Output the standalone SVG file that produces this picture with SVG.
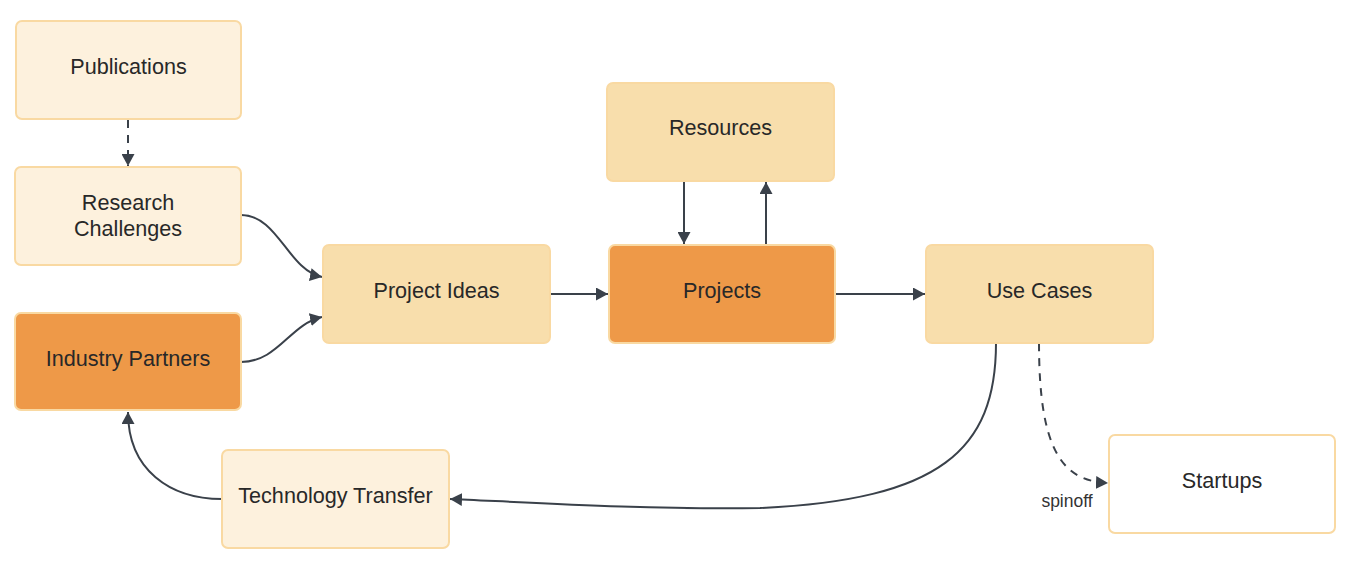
<svg xmlns="http://www.w3.org/2000/svg" width="1362" height="562" viewBox="0 0 1362 562">
  <style>
    .box { stroke: #F9D9A2; stroke-width: 2; }
    .light { fill: #FDF1DD; }
    .mid { fill: #F8DEAC; }
    .orange { fill: #EE9948; }
    .white { fill: #FFFFFF; }
    .lbl { font-family: "Liberation Sans", Arial, sans-serif; font-size: 21.6px; fill: #282828; text-anchor: middle; }
    .small { font-family: "Liberation Sans", Arial, sans-serif; font-size: 17.5px; fill: #333333; text-anchor: middle; }
    .edge { fill: none; stroke: #3A414A; stroke-width: 2; }
    .dash { stroke-dasharray: 8 7; }
  </style>
  <defs>
    <marker id="arrow" markerUnits="userSpaceOnUse" markerWidth="13" markerHeight="13" refX="12" refY="6.5" orient="auto">
      <path d="M0,0 L12,6.5 L0,13 Z" fill="#3A414A"/>
    </marker>
  </defs>
  <rect width="1362" height="562" fill="#FFFFFF"/>

  <g id="connectors">
    <path class="edge dash" d="M128,120 L128,166" marker-end="url(#arrow)"/>
    <path class="edge" d="M241,215 C278,215 288,270 322,277" marker-end="url(#arrow)"/>
    <path class="edge" d="M241,362 C278,362 290,324 322,317" marker-end="url(#arrow)"/>
    <path class="edge" d="M550,294 L608,294" marker-end="url(#arrow)"/>
    <path class="edge" d="M835,294 L925,294" marker-end="url(#arrow)"/>
    <path class="edge" d="M684,181 L684,244" marker-end="url(#arrow)"/>
    <path class="edge" d="M766,245 L766,182" marker-end="url(#arrow)"/>
    <path class="edge" d="M996,343 C996,450 940,500 760,508 C650,510 520,502 450,499" marker-end="url(#arrow)"/>
    <path class="edge" d="M222,499 C170,499 128,470 128,412" marker-end="url(#arrow)"/>
    <path class="edge dash" d="M1039,343 C1039,450 1062,481 1108,483" marker-end="url(#arrow)"/>
    <text class="small" x="1067" y="507">spinoff</text>
  </g>

  <g id="publications">
    <rect class="box light" x="16" y="21" width="225" height="98" rx="6"/>
    <text class="lbl" x="128.5" y="74">Publications</text>
  </g>
  <g id="research-challenges">
    <rect class="box light" x="15" y="167" width="226" height="98" rx="6"/>
    <text class="lbl" x="128" y="210">Research</text>
    <text class="lbl" x="128" y="236">Challenges</text>
  </g>
  <g id="industry-partners">
    <rect class="box orange" x="15" y="313" width="226" height="97" rx="6"/>
    <text class="lbl" x="128" y="366">Industry Partners</text>
  </g>
  <g id="project-ideas">
    <rect class="box mid" x="323" y="245" width="227" height="98" rx="6"/>
    <text class="lbl" x="436.5" y="298">Project Ideas</text>
  </g>
  <g id="projects">
    <rect class="box orange" x="609" y="245" width="226" height="98" rx="6"/>
    <text class="lbl" x="722" y="298">Projects</text>
  </g>
  <g id="resources">
    <rect class="box mid" x="607" y="83" width="227" height="98" rx="6"/>
    <text class="lbl" x="720.5" y="135">Resources</text>
  </g>
  <g id="use-cases">
    <rect class="box mid" x="926" y="245" width="227" height="98" rx="6"/>
    <text class="lbl" x="1039.5" y="298">Use Cases</text>
  </g>
  <g id="startups">
    <rect class="box white" x="1109" y="435" width="226" height="98" rx="6"/>
    <text class="lbl" x="1222" y="488">Startups</text>
  </g>
  <g id="technology-transfer">
    <rect class="box light" x="222" y="450" width="227" height="98" rx="6"/>
    <text class="lbl" x="335.5" y="503">Technology Transfer</text>
  </g>
</svg>
